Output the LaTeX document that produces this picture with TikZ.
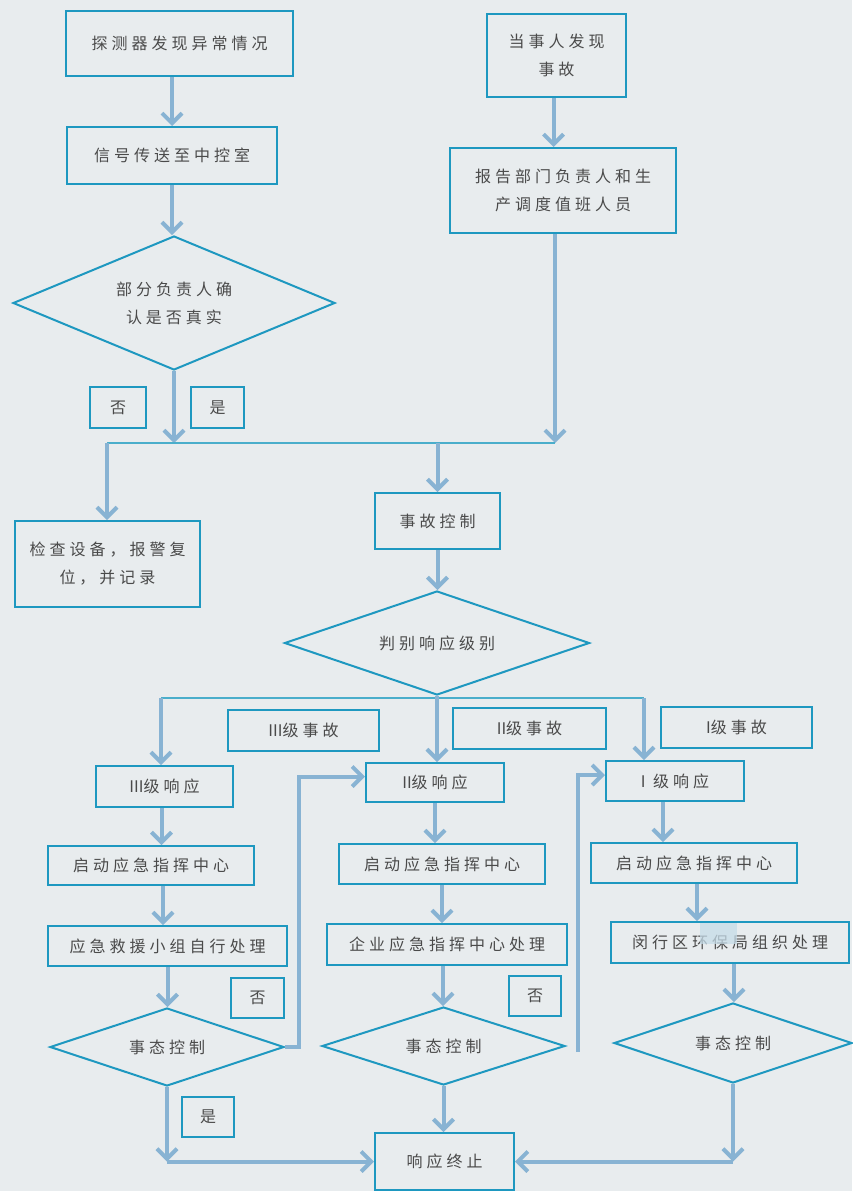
\documentclass[tikz,border=0pt]{standalone}
\usepackage{fontspec}
\newfontfamily\cjk[LetterSpace=25]{Noto Sans CJK SC}
\newfontfamily\cjkn{Noto Sans CJK SC}
\usetikzlibrary{shapes.geometric,arrows.meta,calc}
\definecolor{bg}{HTML}{E8ECEE}
\definecolor{bd}{HTML}{1E98C0}
\definecolor{ar}{HTML}{88B3D3}
\definecolor{jn}{HTML}{4AAECB}
\definecolor{tx}{HTML}{4A4A4A}
\definecolor{patchc}{HTML}{C6DCE8}
\begin{document}
\begin{tikzpicture}[x=1pt,y=-1pt,
  box/.style={draw=bd,line width=2pt,rectangle,inner sep=0pt,align=center,
    font=\cjk\fontsize{16}{28}\selectfont,text=tx},
  dia/.style={draw=bd,line width=2pt,diamond,inner sep=0pt,align=center,
    font=\cjk\fontsize{16}{28}\selectfont,text=tx,aspect=2.8},
  ln/.style={draw=ar,line width=4pt},
  jline/.style={draw=jn,line width=2.5pt},
  arr/.style={ln,-{Straight Barb[length=10pt,width=20pt]}}]
\fill[bg] (0,0) rectangle (852,1191);
\useasboundingbox (0,0) rectangle (852,1191);

% top-left column
\node[box,minimum width=227pt,minimum height=65pt] (b1) at (179.5,43.5) {探测器发现异常情况};
\node[box,minimum width=210pt,minimum height=57pt] (b2) at (172,155.5) {信号传送至中控室};
\node[dia,minimum width=322pt,minimum height=134pt] (d1) at (174,303) {部分负责人确\\认是否真实};
\node[box,minimum width=56pt,minimum height=41pt] (no1) at (118,407.5) {否};
\node[box,minimum width=53pt,minimum height=41pt] (yes1) at (217.5,407.5) {是};

% top-right column
\node[box,minimum width=139pt,minimum height=83pt] (a1) at (556.5,55.5) {当事人发现\\事故};
\node[box,minimum width=226pt,minimum height=85pt] (a2) at (563,190.5) {报告部门负责人和生\\产调度值班人员};

% middle
\node[box,minimum width=185pt,minimum height=86pt] (chk) at (107.5,564) {检查设备，报警复\\位，并记录};
\node[box,minimum width=125pt,minimum height=56pt] (ctl) at (437.5,521) {事故控制};
\node[dia,minimum width=305pt,minimum height=104pt] (d2) at (437,643) {判别响应级别};

% level labels
\node[box,minimum width=151pt,minimum height=41pt] (e3) at (303.5,730.5) {{\cjkn III}级事故};
\node[box,minimum width=153pt,minimum height=41pt] (e2) at (529.5,728.5) {{\cjkn II}级事故};
\node[box,minimum width=151pt,minimum height=41pt] (e1) at (736.5,727.5) {{\cjkn I}级事故};

% responses
\node[box,minimum width=137pt,minimum height=41pt] (r3) at (164.5,786.5) {{\cjkn III}级响应};
\node[box,minimum width=138pt,minimum height=39pt] (r2) at (435,782.5) {{\cjkn II}级响应};
\node[box,minimum width=138pt,minimum height=40pt] (r1) at (675,781) {{\cjkn I} 级响应};

\node[box,minimum width=206pt,minimum height=39pt] (s3) at (151,865.5) {启动应急指挥中心};
\node[box,minimum width=206pt,minimum height=40pt] (s2) at (442,864) {启动应急指挥中心};
\node[box,minimum width=206pt,minimum height=40pt] (s1) at (694,863) {启动应急指挥中心};

\node[box,minimum width=239pt,minimum height=40pt] (p3) at (167.5,946) {应急救援小组自行处理};
\node[box,minimum width=240pt,minimum height=41pt] (p2) at (447,944.5) {企业应急指挥中心处理};
\node[box,minimum width=238pt,minimum height=41pt] (p1) at (730,942.5) {闵行区环保局组织处理};
\fill[patchc,opacity=0.75] (700,923) rectangle (737,944);

\node[dia,minimum width=234pt,minimum height=78pt] (q3) at (167,1047) {事态控制};
\node[dia,minimum width=243pt,minimum height=78pt] (q2) at (443.5,1046) {事态控制};
\node[dia,minimum width=238pt,minimum height=80pt] (q1) at (733,1043) {事态控制};

\node[box,minimum width=53pt,minimum height=40pt] (no3) at (257.5,998) {否};
\node[box,minimum width=52pt,minimum height=40pt] (no2) at (535,996) {否};
\node[box,minimum width=52pt,minimum height=40pt] (yes3) at (208,1117) {是};

\node[box,minimum width=139pt,minimum height=57pt] (end) at (444.5,1161.5) {响应终止};

% junction coordinates
\coordinate (jL) at (107,443);
\coordinate (jR) at (555,443);
\coordinate (kL) at (161,698);
\coordinate (kR) at (644,698);

% connectors top
\draw[arr] (b2.north |- b1.south) -- (b2.north);
\draw[arr] (b2.south) -- (b2.south |- d1.north);
\draw[arr] (d1.south) -- (d1.south |- jL);
\draw[arr] ([xshift=-3pt]a1.south) -- ([xshift=-3pt]a1.south |- a2.north);
\draw[arr] (jR |- a2.south) -- (jR);
\draw[jline] (jL) -- (jR);
\draw[arr] (jL) -- (jL |- chk.north);
\draw[arr] (ctl.north |- jL) -- (ctl.north);
\draw[arr] (ctl.south) -- (ctl.south |- d2.north);

% split
\draw[jline] (kL) -- (kR);
\draw[arr] (kL) -- (kL |- r3.north);
\draw[arr] (d2.south) -- (d2.south |- r2.north);
\draw[arr] (kR) -- (kR |- r1.north);

% left column
\draw[arr] ([xshift=-3pt]r3.south) -- ([xshift=-3pt]r3.south |- s3.north);
\draw[arr] ([xshift=12pt]s3.south) -- ([xshift=12pt]s3.south |- p3.north);
\draw[arr] (p3.south) -- (p3.south |- q3.north);
\draw[arr] (q3.east) -- ++(14,0) |- ([yshift=6pt]r2.west);
\draw[arr] (q3.south) -- (q3.south |- end.west);
\draw[arr] (q3.south |- end.west) -- (end.west);

% middle column
\draw[arr] (r2.south) -- (r2.south |- s2.north);
\draw[arr] (s2.south) -- (s2.south |- p2.north);
\draw[arr] ([xshift=-4pt]p2.south) -- ([xshift=-4pt]p2.south |- q2.north);
\draw[arr] (q2.south) -- (q2.south |- end.north);
\draw[arr] ([xshift=12pt,yshift=-6pt]q2.east) |- ([yshift=6pt]r1.west);

% right column
\draw[arr] ([xshift=-12pt]r1.south) -- ([xshift=-12pt]r1.south |- s1.north);
\draw[arr] ([xshift=3pt]s1.south) -- ([xshift=3pt]s1.south |- p1.north);
\draw[arr] ([xshift=4pt]p1.south) -- ([xshift=4pt]p1.south |- q1.north);
\draw[arr] (q1.south) -- (q1.south |- end.east);
\draw[arr] (q1.south |- end.east) -- (end.east);
\end{tikzpicture}
\end{document}
